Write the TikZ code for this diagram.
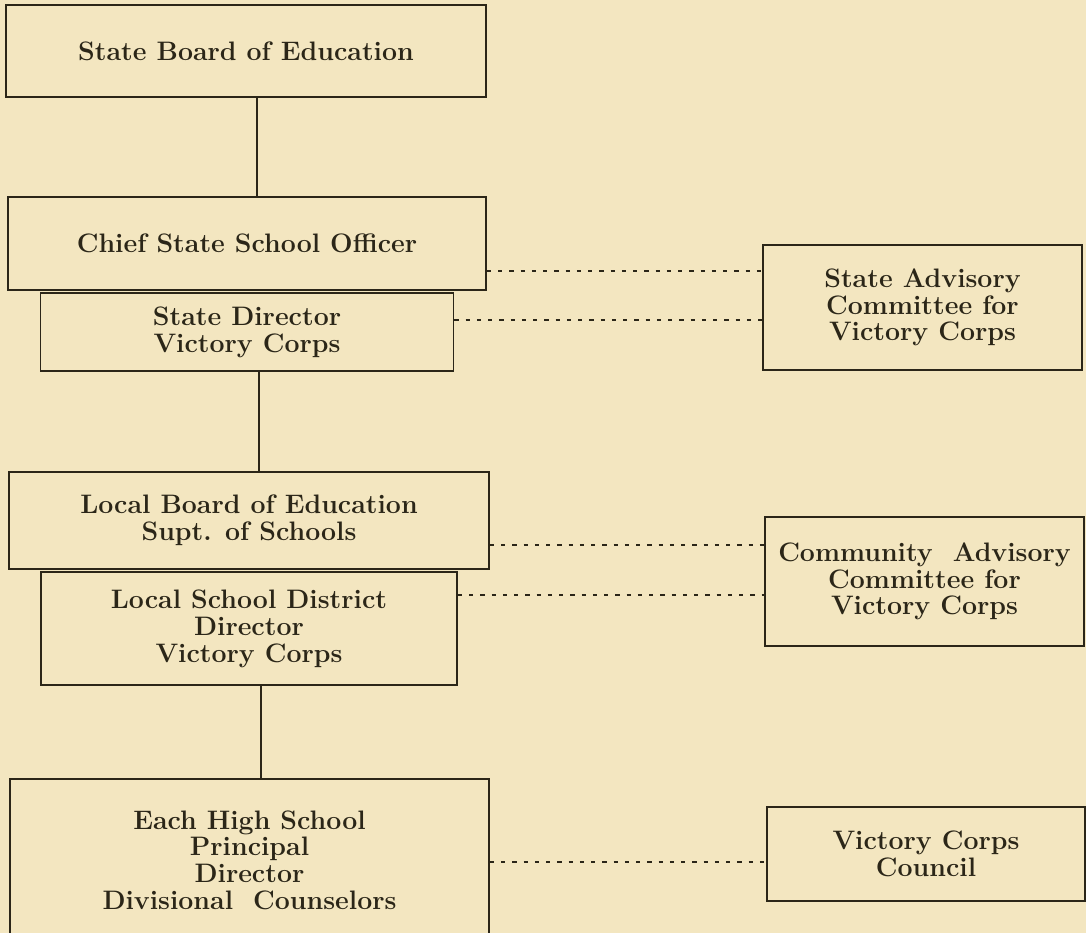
\documentclass[tikz,border=0pt]{standalone}
\usetikzlibrary{positioning}
\definecolor{paper}{HTML}{F3E6C0}
\definecolor{ink}{HTML}{2B2618}
\tikzset{
  box/.style 2 args={rectangle,draw=ink,line width=1.3pt,inner sep=0pt,
    minimum width=#1*0.025cm,minimum height=#2*0.025cm,align=center,
    text=ink,font=\fontsize{19}{19}\selectfont\bfseries},
  tie/.style={draw=ink,line width=1.3pt},
  link/.style={draw=ink,line width=0.9pt,dash pattern=on 3pt off 5pt},
}

\begin{document}
\begin{tikzpicture}[x=0.025cm,y=-0.025cm]
  \useasboundingbox (0,0) rectangle (1086,933);
  \fill[paper] (0,0) rectangle (1086,933);
  \clip (0,0) rectangle (1086,933);
  % state level
  \node (sbe) [box={480}{92}] at (246,51) {State Board of Education};
  \node (chief) [box={478}{93}] at (247,243.5) {Chief State School Officer};
  \node (sdir) [box={413}{78},below=1pt of chief] {State Director\\Victory Corps};
  \node (sadv) [box={319}{125}] at (922.5,307.5)
    {State Advisory\\Committee for\\Victory Corps};
  % local level
  \node (lbe) [box={480}{97}] at (249,520.5)
    {Local Board of Education\\Supt. of Schools};
  \node (ldir) [box={416}{113},below=1pt of lbe]
    {Local School District\\Director\\Victory Corps};
  \node (cadv) [box={319}{129}] at (924.5,581.5)
    {Community\ \ Advisory\\Committee for\\Victory Corps};
  % school level
  \node (ehs) [box={479}{162}] at (249.5,860)
    {Each High School\\Principal\\Director\\Divisional\ \ Counselors};
  \node (vcc) [box={318}{94}] at (926,854) {Victory\ Corps\\Council};
  % heights of the advisory links
  \coordinate (l1) at (0,271);
  \coordinate (l2) at (0,320);
  \coordinate (l3) at (0,545);
  \coordinate (l4) at (0,595);
  \coordinate (l5) at (0,862);
  \draw[tie] ([xshift=0.275cm]sbe.south) -- ([xshift=0.275cm]sbe.south |- chief.north);
  \draw[tie] ([xshift=0.3cm]sdir.south) -- ([xshift=0.3cm]sdir.south |- lbe.north);
  \draw[tie] ([xshift=0.3cm]ldir.south) -- ([xshift=0.3cm]ldir.south |- ehs.north);
  \draw[link] (chief.east |- l1) -- (sadv.west |- l1);
  \draw[link] (sdir.east |- l2) -- (sadv.west |- l2);
  \draw[link] (lbe.east |- l3) -- (cadv.west |- l3);
  \draw[link] (ldir.east |- l4) -- (cadv.west |- l4);
  \draw[link] (ehs.east |- l5) -- (vcc.west |- l5);
\end{tikzpicture}
\end{document}
